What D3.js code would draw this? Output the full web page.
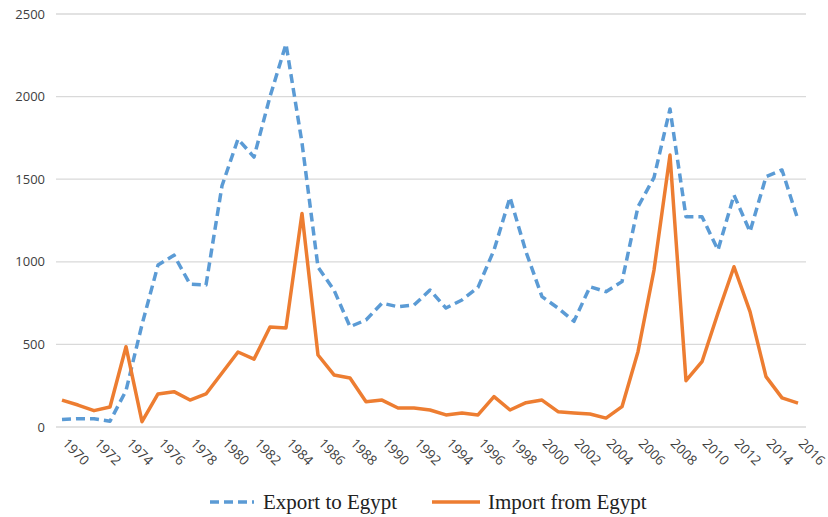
<!DOCTYPE html>
<html>
<head>
<meta charset="utf-8">
<script src="https://cdn.jsdelivr.net/npm/d3@7"></script>
<style>
  html, body { margin: 0; padding: 0; background: #fff; }
  svg { display: block; }
</style>
</head>
<body>
<svg id="chart" width="828" height="517"></svg>
<script>
const years = d3.range(1970, 2017);
const exportToEgypt = [45, 50, 50, 35, 220, 620, 980, 1040, 865, 860,
  1460, 1743, 1634, 2000, 2318, 1720, 968, 829, 607, 648,
  750, 728, 738, 829, 720, 769, 845, 1071, 1390, 1060,
  789, 720, 640, 849, 819, 880, 1333, 1510, 1925, 1273,
  1273, 1071, 1404, 1182, 1515, 1556, 1253];
const importFromEgypt = [163, 133, 99, 121, 486, 32, 200, 214, 163, 200,
  327, 454, 411, 605, 600, 1292, 436, 315, 297, 153,
  163, 115, 115, 103, 73, 85, 73, 184, 103, 147,
  163, 93, 85, 79, 54, 123, 456, 950, 1646, 280,
  395, 690, 970, 698, 305, 176, 145];
const yTicks = [0, 500, 1000, 1500, 2000, 2500];
const xTickYears = years.filter(v => (v - 1970) % 2 === 0);
const seriesNames = ["Export to Egypt", "Import from Egypt"];

(function () {
const svg = d3.select("#chart");
const mLeft = 54, mRight = 806, mTop = 14, mBottom = 427;

const x = d3.scaleBand().domain(years).range([mLeft, mRight]).padding(0);
const cx = yr => x(yr) + x.bandwidth() / 2;
const y = d3.scaleLinear().domain([0, 2500]).range([mBottom, mTop]);

// gridlines
svg.append("g").selectAll("line").data(yTicks).join("line")
  .attr("x1", 56).attr("x2", mRight)
  .attr("y1", d => y(d)).attr("y2", d => y(d))
  .attr("stroke", "#d9d9d9").attr("stroke-width", 1.3);

// y axis labels
const yAxis = d3.axisLeft(y).tickValues(yTicks).tickFormat(d3.format("d")).tickSize(0).tickPadding(0);
const gy = svg.append("g").attr("transform", "translate(45,0)").call(yAxis);
gy.select(".domain").remove();
gy.selectAll("text").attr("font-family", "'Open Sans', sans-serif")
  .attr("font-size", "13px").attr("fill", "#404040");

// x axis labels
const xAxis = d3.axisBottom(x).tickValues(xTickYears).tickSize(0).tickPadding(0);
const gx = svg.append("g").attr("transform", `translate(0,${mBottom})`).call(xAxis);
gx.select(".domain").remove();
gx.selectAll("text")
  .attr("font-family", "'Open Sans', sans-serif")
  .attr("font-size", "13.5px").attr("fill", "#404040")
  .attr("text-anchor", "start")
  .attr("transform", "translate(3,14) rotate(45)")
  .attr("dy", "0.35em").attr("y", 0);

const line = d3.line().x((d, i) => cx(years[i])).y(d => y(d));

svg.append("path").datum(exportToEgypt)
  .attr("d", line).attr("fill", "none")
  .attr("stroke", "#5B9BD5").attr("stroke-width", 3.5)
  .attr("stroke-dasharray", "9,5").attr("stroke-linejoin", "round");

svg.append("path").datum(importFromEgypt)
  .attr("d", line).attr("fill", "none")
  .attr("stroke", "#ED7D31").attr("stroke-width", 3.5)
  .attr("stroke-linejoin", "round");

// legend
const lg = svg.append("g");
lg.append("line").attr("x1", 210).attr("x2", 254).attr("y1", 502).attr("y2", 502)
  .attr("stroke", "#5B9BD5").attr("stroke-width", 3.5).attr("stroke-dasharray", "9,5");
lg.append("text").attr("x", 263).attr("y", 509).text(seriesNames[0])
  .attr("font-family", "'Liberation Serif', 'Times New Roman', serif")
  .attr("font-size", "21px").attr("fill", "#222");
lg.append("line").attr("x1", 432).attr("x2", 480).attr("y1", 502).attr("y2", 502)
  .attr("stroke", "#ED7D31").attr("stroke-width", 3.5);
lg.append("text").attr("x", 488).attr("y", 509).text(seriesNames[1])
  .attr("font-family", "'Liberation Serif', 'Times New Roman', serif")
  .attr("font-size", "21px").attr("fill", "#222");
})();
</script>
</body>
</html>
